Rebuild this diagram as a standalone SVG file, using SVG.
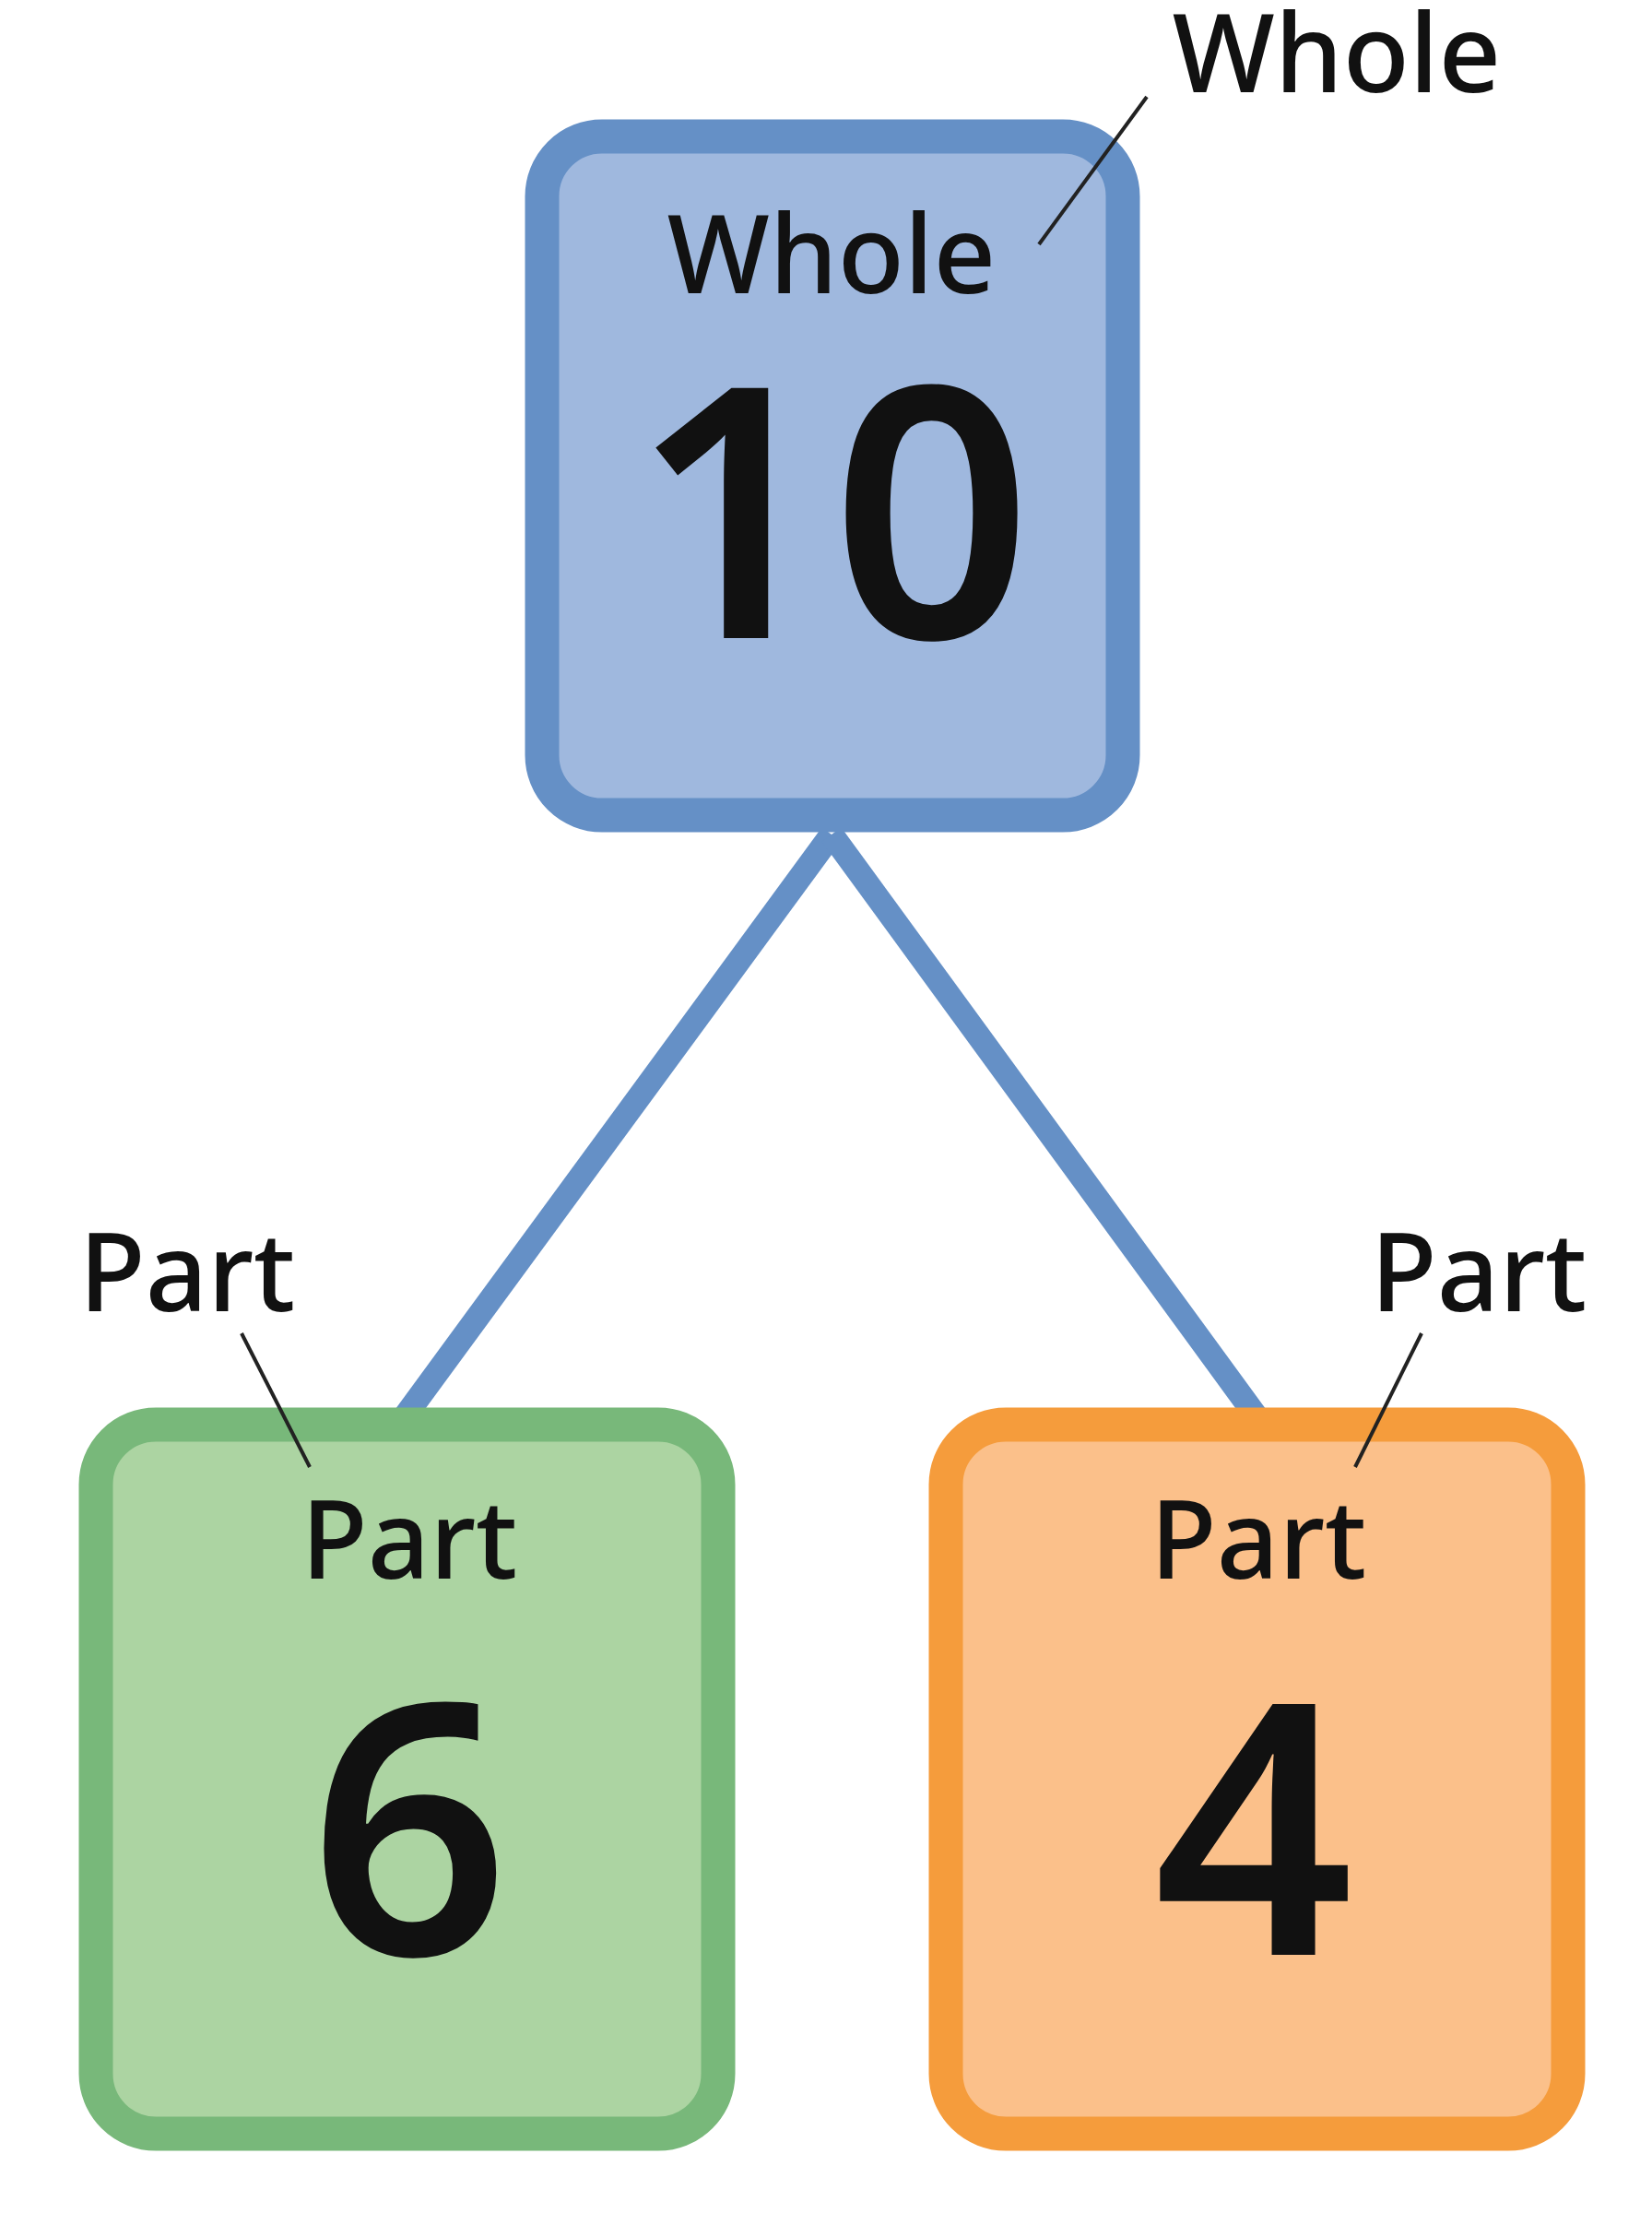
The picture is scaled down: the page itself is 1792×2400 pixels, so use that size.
<svg xmlns="http://www.w3.org/2000/svg" width="1792" height="2400" viewBox="0 0 1792 2400">
<style>
.t{font-family:"Noto Sans","DejaVu Sans",sans-serif;fill:#111;text-anchor:middle}
.lbl{font-size:118px;font-weight:500}
.num{font-size:380px;font-weight:600}
.lead{stroke:#222;stroke-width:4;fill:none}
</style>
<rect width="1792" height="2400" fill="#fff"/>
<g id="connectors">
<line x1="902" y1="905" x2="440" y2="1535" stroke="#6590c6" stroke-width="26"/>
<line x1="902" y1="905" x2="1362" y2="1535" stroke="#6590c6" stroke-width="26"/>
</g>
<g id="whole">
<rect x="588" y="148" width="630" height="736" rx="65" fill="#9fb8de" stroke="#6590c6" stroke-width="37"/>
<text class="t lbl" x="902" y="318">Whole</text>
<text class="t num" x="902" y="692">10</text>
</g>
<g id="part6">
<rect x="104" y="1545" width="675" height="769" rx="65" fill="#acd4a2" stroke="#78b87a" stroke-width="37"/>
<text class="t lbl" x="444" y="1712">Part</text>
<text class="t num" x="444" y="2120">6</text>
</g>
<g id="part4">
<rect x="1026" y="1545" width="675" height="769" rx="65" fill="#fbc08a" stroke="#f59c3c" stroke-width="37"/>
<text class="t lbl" x="1365" y="1712">Part</text>
<text class="t num" x="1360" y="2120">4</text>
</g>
<g id="labels">
<text class="t lbl" x="1450" y="100">Whole</text>
<text class="t lbl" x="203" y="1422">Part</text>
<text class="t lbl" x="1604" y="1422">Part</text>
<line class="lead" x1="1244" y1="105" x2="1127" y2="265"/>
<line class="lead" x1="262" y1="1446" x2="336" y2="1591"/>
<line class="lead" x1="1542" y1="1446" x2="1470" y2="1591"/>
</g>
</svg>
